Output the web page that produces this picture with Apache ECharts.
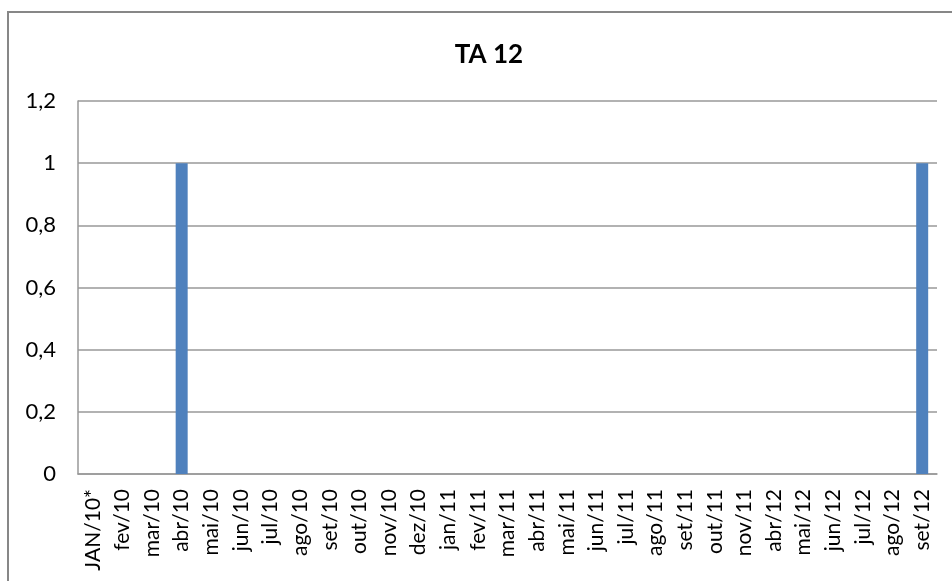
<!DOCTYPE html>
<html>
<head>
<meta charset="utf-8">
<script src="https://cdn.jsdelivr.net/npm/echarts@6/dist/echarts.min.js"></script>
<style>html,body{margin:0;padding:0;background:#fff;}#c{width:952px;height:581px;}</style>
</head>
<body>
<div id="c"></div>
<script>
const categories = ["JAN/10*","fev/10","mar/10","abr/10","mai/10","jun/10","jul/10","ago/10","set/10","out/10","nov/10","dez/10","jan/11","fev/11","mar/11","abr/11","mai/11","jun/11","jul/11","ago/11","set/11","out/11","nov/11","abr/12","mai/12","jun/12","jul/12","ago/12","set/12"];
const values = [0,0,0,1,0,0,0,0,0,0,0,0,0,0,0,0,0,0,0,0,0,0,0,0,0,0,0,0,1];
const yTicks = [0,0.2,0.4,0.6,0.8,1,1.2];

const chart = echarts.init(document.getElementById('c'));
const font = 'Lato, "Liberation Sans", sans-serif';
chart.setOption({
  animation: false,
  title: {
    text: 'TA 12',
    left: 484, top: 37,
    textAlign: 'center',
    textStyle: {fontFamily: font, fontWeight: 'bold', fontSize: 26, color: '#000'}
  },
  graphic: [{
    type: 'rect', shape: {x: 8, y: 12, width: 1000, height: 700},
    style: {fill: 'none', stroke: '#878787', lineWidth: 2}, silent: true, z: 100
  }],
  grid: {left: 78, right: 15, top: 101, bottom: 107, containLabel: false},
  xAxis: {
    type: 'category', data: categories,
    axisLine: {show: true, lineStyle: {color: '#999', width: 1.5}},
    axisTick: {show: false},
    axisLabel: {rotate: 90, interval: 0, margin: 15, fontFamily: font, fontSize: 21, color: '#000'}
  },
  yAxis: {
    type: 'value', min: yTicks[0], max: yTicks[yTicks.length-1], interval: 0.2,
    axisLine: {show: true, lineStyle: {color: '#999', width: 1.5}},
    axisTick: {show: false},
    splitLine: {show: true, lineStyle: {color: '#999', width: 1.5}},
    axisLabel: {margin: 22, fontFamily: font, fontSize: 22, color: '#000',
      formatter: v => String(Math.round(v*10)/10).replace('.', ',')}
  },
  series: [{
    type: 'bar', data: values, barWidth: 12,
    itemStyle: {color: '#4F81BD'}
  }]
});
</script>
</body>
</html>
